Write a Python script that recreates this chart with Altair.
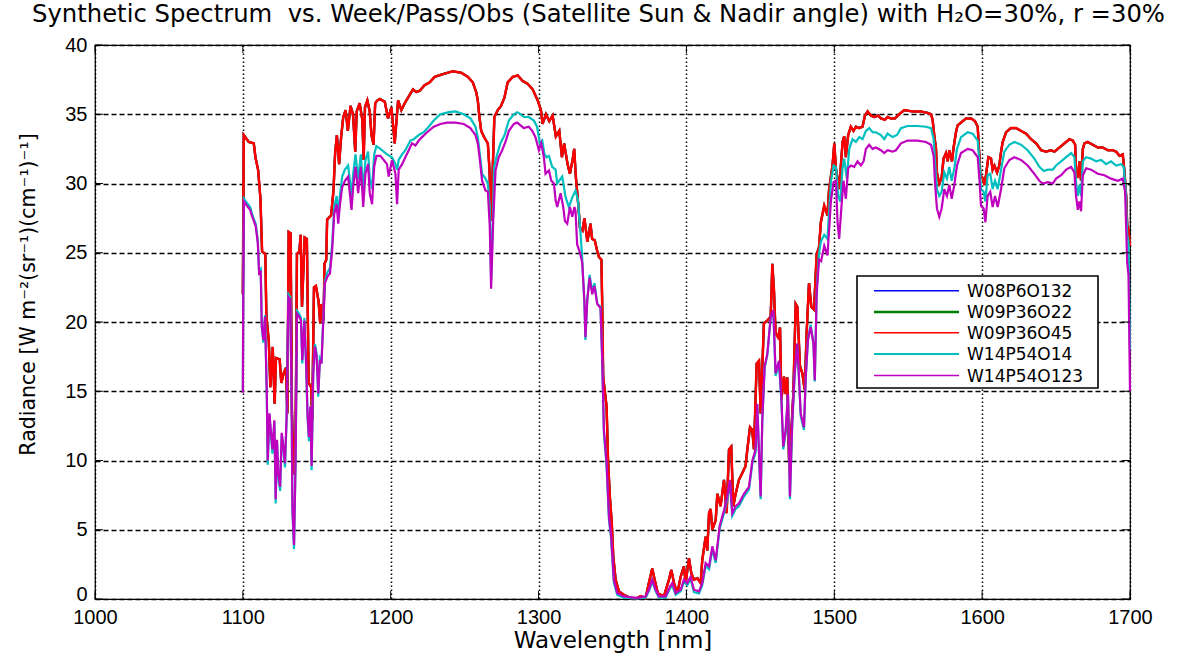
import altair as alt
import pandas as pd

# ---------------- data ----------------
X_TICKS = [1000, 1100, 1200, 1300, 1400, 1500, 1600, 1700]
Y_TICKS = [0, 5, 10, 15, 20, 25, 30, 35, 40]

SERIES = ["W08P6O132", "W09P36O22", "W09P36O45", "W14P54O14", "W14P54O123"]
COLORS = ["#0000ff", "#008000", "#ff0000", "#00bfbf", "#bf00bf"]

RED_WL = [1100.0, 1100.6, 1104.0, 1107.4, 1108.5, 1110.3, 1111.9, 1113.0, 1115.2, 1115.9, 1117.5,
          1118.6, 1120.2, 1121.5, 1122.4, 1124.9, 1126.0, 1127.6, 1129.2, 1130.1, 1131.0, 1132.3,
          1133.2, 1134.3, 1135.7, 1136.6, 1138.2, 1139.1, 1140.0, 1141.8, 1143.3, 1144.5, 1146.2,
          1146.9, 1148.1, 1149.4, 1151.2, 1152.3, 1153.2, 1154.6, 1155.2, 1156.4, 1157.0, 1159.7,
          1161.3, 1162.4, 1163.6, 1165.1, 1166.5, 1167.9, 1169.5, 1171.0, 1172.8, 1174.5, 1176.0,
          1177.0, 1179.0, 1180.8, 1181.7, 1182.6, 1184.2, 1185.8, 1187.0, 1188.4, 1189.5, 1191.0,
          1192.6, 1196.0, 1198.2, 1200.5, 1202.7, 1205.0, 1207.2, 1209.5, 1212.8, 1215.1, 1217.3,
          1219.6, 1222.9, 1226.3, 1229.7, 1235.3, 1242.0, 1247.7, 1252.2, 1255.5, 1257.8, 1258.9,
          1260.0, 1261.2, 1263.4, 1265.7, 1266.8, 1267.9, 1269.0, 1270.1, 1272.4, 1274.6, 1276.9,
          1279.1, 1282.5, 1285.9, 1289.3, 1292.6, 1296.0, 1299.4, 1301.6, 1302.7, 1305.0, 1307.2,
          1309.5, 1311.7, 1314.0, 1315.8, 1317.3, 1319.6, 1321.2, 1323.0, 1324.1, 1325.2, 1327.0,
          1328.0, 1329.7, 1331.0, 1333.0, 1335.1, 1336.2, 1338.0, 1339.5, 1340.8, 1342.5, 1343.0,
          1343.7, 1346.0, 1347.0, 1348.2, 1349.5, 1350.5, 1352.1, 1354.3, 1357.7, 1362.2, 1366.7,
          1369.0, 1372.4, 1374.6, 1376.9, 1378.5, 1380.7, 1384.8, 1388.2, 1389.8, 1391.6, 1393.8,
          1396.1, 1398.3, 1399.5, 1401.7, 1403.3, 1405.1, 1407.4, 1409.6, 1410.7, 1413.0, 1414.1,
          1415.3, 1416.4, 1417.5, 1419.8, 1420.9, 1423.1, 1425.4, 1427.2, 1428.8, 1430.3, 1431.7,
          1433.3, 1435.5, 1437.8, 1440.0, 1441.2, 1443.0, 1444.5, 1445.7, 1447.5, 1449.1, 1450.2,
          1452.4, 1454.7, 1457.0, 1458.1, 1459.2, 1460.3, 1462.0, 1463.3, 1464.2, 1466.0, 1467.1,
          1468.2, 1469.4, 1470.5, 1472.3, 1473.9, 1475.0, 1476.8, 1478.4, 1480.0, 1481.3, 1482.9,
          1484.5, 1486.3, 1488.1, 1489.7, 1490.9, 1493.2, 1495.4, 1496.5, 1498.8, 1500.0, 1501.1,
          1503.3, 1505.6, 1506.7, 1507.8, 1509.4, 1511.2, 1513.0, 1514.6, 1516.9, 1519.1, 1520.7,
          1522.5, 1524.8, 1527.0, 1529.7, 1531.5, 1534.2, 1536.0, 1538.3, 1541.0, 1543.9, 1547.3,
          1553.0, 1558.6, 1563.1, 1565.4, 1566.5, 1567.6, 1568.8, 1569.4, 1571.0, 1572.6, 1573.9,
          1575.5, 1576.7, 1577.8, 1579.6, 1580.7, 1582.3, 1583.4, 1585.7, 1589.1, 1592.5, 1595.2,
          1597.0, 1598.1, 1598.8, 1600.4, 1601.5, 1602.6, 1604.2, 1606.0, 1607.1, 1608.3, 1610.1,
          1611.6, 1612.8, 1613.9, 1616.2, 1619.5, 1622.9, 1626.3, 1629.7, 1633.1, 1636.5, 1639.9,
          1643.2, 1646.6, 1648.9, 1652.3, 1655.7, 1659.0, 1661.3, 1662.9, 1663.5, 1664.7, 1665.8,
          1666.9, 1668.1, 1669.2, 1671.4, 1674.8, 1678.2, 1681.6, 1685.0, 1688.4, 1690.6, 1692.9,
          1695.1, 1696.3, 1697.4, 1698.1, 1699.0, 1700.0]
RED_VAL = [22.0, 33.5, 33.0, 32.9, 31.9, 31.0, 28.9, 25.1, 24.9, 20.4, 18.7,
           15.3, 18.2, 14.1, 17.4, 17.3, 15.6, 16.3, 16.7, 13.4, 26.5, 26.4,
           13.6, 9.0, 12.0, 24.9, 25.1, 26.3, 21.1, 26.1, 26.0, 15.6, 15.3,
           12.9, 22.5, 22.6, 21.5, 19.9, 21.3, 20.1, 24.2, 24.5, 27.4, 27.7,
           29.5, 32.2, 33.5, 31.4, 33.4, 34.8, 35.3, 33.8, 35.6, 35.0, 32.3,
           35.2, 35.8, 34.6, 31.7, 35.5, 36.0, 35.2, 33.5, 32.8, 35.8, 36.0,
           36.1, 35.9, 34.7, 35.5, 32.9, 36.0, 35.3, 35.8, 36.4, 36.8, 36.6,
           36.7, 37.1, 37.3, 37.7, 37.9, 38.1, 38.0, 37.7, 37.3, 36.6, 36.0,
           34.8, 33.8, 33.3, 32.9, 31.0, 27.3, 31.0, 34.8, 35.3, 35.6, 36.2,
           37.3, 37.7, 37.8, 37.4, 37.2, 36.8, 36.0, 35.3, 34.3, 35.0, 34.5,
           34.9, 33.4, 33.8, 31.9, 32.9, 31.4, 30.7, 31.7, 32.5, 30.5, 28.3,
           26.8, 26.6, 27.5, 25.8, 27.1, 26.0, 25.9, 25.2, 24.7, 24.5, 21.5,
           16.0, 13.9, 10.0, 7.4, 5.5, 3.1, 1.4, 0.55, 0.3, 0.07, 0.07,
           0.2, 0.07, 1.15, 2.2, 1.4, 0.4, 0.2, 1.4, 2.1, 1.15, 0.4,
           1.6, 2.35, 1.15, 2.95, 1.87, 1.4, 1.5, 1.15, 2.8, 4.5, 3.5,
           6.2, 6.5, 5.0, 5.7, 7.6, 6.7, 8.6, 6.2, 10.8, 11.0, 6.7,
           7.6, 8.6, 9.1, 9.6, 10.8, 12.4, 12.2, 10.8, 17.0, 17.2, 13.4,
           19.9, 20.1, 20.4, 24.2, 22.3, 19.2, 18.9, 19.6, 14.4, 16.05, 14.8,
           16.0, 10.0, 11.2, 14.8, 21.3, 21.1, 16.8, 16.3, 15.1, 19.2, 22.8,
           21.1, 20.9, 24.9, 25.4, 27.2, 28.4, 27.7, 29.6, 31.3, 32.9, 31.1,
           29.6, 33.0, 33.4, 31.9, 33.5, 34.1, 33.8, 34.1, 34.0, 34.1, 34.9,
           35.2, 34.9, 34.8, 34.9, 34.7, 34.6, 34.8, 34.7, 34.7, 35.0, 35.3,
           35.2, 35.2, 35.1, 35.0, 34.6, 33.5, 32.5, 30.8, 30.0, 30.4, 31.8,
           32.2, 31.6, 32.4, 31.6, 32.6, 33.7, 34.2, 34.4, 34.7, 34.7, 34.5,
           34.1, 32.0, 30.6, 30.4, 29.9, 30.6, 31.9, 31.8, 31.0, 31.3, 30.8,
           31.3, 32.3, 33.0, 33.7, 34.0, 34.0, 33.8, 33.6, 33.2, 32.9, 32.4,
           32.3, 32.4, 32.3, 32.6, 32.9, 33.2, 33.1, 32.8, 30.8, 30.4, 31.6,
           30.2, 32.5, 32.9, 33.0, 32.8, 32.6, 32.6, 32.4, 32.4, 32.3, 32.0,
           32.1, 30.8, 29.1, 27.0, 26.7, 25.5]

# blue and green runs read as the same curve as red (hidden underneath it)
BLUE_WL, BLUE_VAL = RED_WL, RED_VAL
GREEN_WL, GREEN_VAL = RED_WL, RED_VAL

MAG_WL = [1100.0, 1100.3, 1100.7, 1102.7, 1104.9, 1106.0, 1107.2, 1108.7, 1110.1, 1111.0, 1112.1,
          1112.8, 1113.9, 1115.0, 1116.2, 1116.8, 1118.0, 1118.9, 1120.0, 1121.3, 1122.2, 1123.1,
          1124.0, 1125.2, 1126.3, 1127.4, 1128.5, 1129.6, 1130.8, 1132.1, 1133.0, 1133.5, 1134.6,
          1135.7, 1136.6, 1138.0, 1139.3, 1140.2, 1141.6, 1142.7, 1143.8, 1144.7, 1145.6, 1146.5,
          1147.6, 1148.8, 1149.9, 1151.0, 1152.1, 1153.2, 1154.4, 1155.5, 1157.3, 1158.9, 1160.4,
          1161.8, 1163.4, 1164.5, 1165.6, 1167.2, 1169.0, 1171.2, 1173.5, 1174.6, 1176.2, 1178.0,
          1179.8, 1181.4, 1182.9, 1184.7, 1185.8, 1187.4, 1188.8, 1190.3, 1193.0, 1197.5, 1198.6,
          1200.9, 1203.2, 1204.3, 1205.4, 1207.7, 1209.9, 1212.2, 1214.4, 1216.7, 1219.0, 1221.2,
          1224.6, 1229.1, 1233.6, 1238.1, 1243.8, 1249.4, 1253.9, 1257.3, 1258.9, 1260.3, 1261.8,
          1264.1, 1265.7, 1267.0, 1267.9, 1269.3, 1270.9, 1273.1, 1275.4, 1277.6, 1279.9, 1283.3,
          1285.5, 1287.8, 1290.0, 1293.4, 1295.7, 1297.9, 1300.2, 1301.8, 1303.6, 1304.7, 1307.0,
          1308.6, 1310.4, 1311.5, 1312.6, 1314.9, 1316.7, 1317.8, 1319.4, 1321.2, 1322.8, 1324.3,
          1325.0, 1326.1, 1328.0, 1329.5, 1331.0, 1331.7, 1332.9, 1334.5, 1336.3, 1337.8, 1339.7,
          1341.9, 1343.0, 1344.2, 1346.0, 1347.6, 1349.1, 1350.9, 1353.2, 1357.7, 1366.7, 1372.4,
          1374.6, 1376.9, 1379.2, 1381.4, 1385.9, 1388.9, 1390.4, 1392.7, 1396.1, 1398.3, 1400.6,
          1402.8, 1405.1, 1408.5, 1410.7, 1413.0, 1415.3, 1417.5, 1419.8, 1422.5, 1425.4, 1427.6,
          1429.4, 1431.0, 1433.3, 1435.5, 1438.9, 1442.3, 1444.6, 1446.8, 1447.9, 1450.2, 1451.3,
          1452.9, 1454.7, 1457.0, 1458.8, 1460.3, 1462.6, 1464.2, 1465.5, 1467.1, 1468.7, 1470.0,
          1471.6, 1473.2, 1475.0, 1477.3, 1479.5, 1480.7, 1482.2, 1484.0, 1485.9, 1486.8, 1488.1,
          1489.7, 1491.1, 1493.2, 1495.4, 1497.7, 1499.5, 1501.1, 1502.2, 1503.3, 1504.9, 1506.2,
          1507.8, 1509.4, 1511.2, 1513.5, 1515.7, 1518.0, 1519.8, 1521.4, 1523.6, 1525.9, 1528.1,
          1531.5, 1533.8, 1536.0, 1539.4, 1541.7, 1545.1, 1549.6, 1556.3, 1562.0, 1565.4, 1567.2,
          1568.1, 1569.4, 1571.0, 1572.6, 1574.4, 1576.2, 1577.8, 1579.4, 1581.2, 1583.0, 1585.7,
          1590.2, 1593.6, 1597.0, 1598.3, 1599.2, 1601.0, 1602.2, 1603.7, 1605.5, 1607.1, 1608.7,
          1610.5, 1612.8, 1615.0, 1618.4, 1621.8, 1626.3, 1630.8, 1635.3, 1638.7, 1641.0, 1644.4,
          1647.8, 1650.0, 1653.4, 1656.8, 1660.2, 1662.4, 1663.5, 1664.7, 1665.8, 1666.9, 1668.1,
          1670.3, 1673.7, 1678.2, 1682.7, 1687.2, 1691.8, 1695.1, 1696.7, 1698.1, 1699.0, 1700.0]
MAG_VAL = [14.9, 22.3, 28.7, 28.4, 28.1, 27.7, 27.35, 26.9, 25.7, 23.5, 23.6,
           19.7, 18.7, 20.4, 14.85, 10.0, 13.4, 12.2, 10.8, 12.9, 7.2, 11.5,
           9.1, 8.1, 12.0, 11.0, 9.8, 13.2, 21.8, 21.6, 14.1, 6.7, 3.9,
           10.3, 20.6, 20.4, 20.1, 17.25, 20.1, 17.25, 13.2, 11.7, 13.9, 9.6,
           16.3, 18.2, 17.5, 14.85, 17.25, 17.0, 20.1, 22.8, 23.3, 23.5, 25.2,
           27.8, 28.5, 27.1, 28.4, 29.75, 30.2, 30.5, 28.1, 29.75, 31.2, 29.3,
           31.2, 28.3, 30.7, 31.4, 29.3, 28.5, 31.2, 32.0, 32.0, 31.4, 30.5,
           31.7, 30.7, 28.5, 31.0, 31.4, 31.9, 32.4, 32.9, 32.75, 33.1, 33.35,
           33.7, 34.1, 34.3, 34.4, 34.4, 34.3, 34.0, 33.5, 32.9, 31.7, 30.2,
           29.5, 29.4, 26.9, 22.4, 27.3, 30.95, 31.9, 32.4, 33.0, 33.8, 34.3,
           34.4, 34.2, 34.0, 34.1, 33.8, 33.35, 32.4, 32.9, 31.9, 30.7, 30.95,
           30.2, 30.0, 28.8, 28.3, 29.3, 28.3, 27.3, 27.1, 28.3, 27.6, 28.3,
           28.0, 25.6, 25.0, 24.3, 21.5, 18.9, 21.5, 23.2, 22.0, 22.6, 21.3,
           21.0, 17.5, 12.2, 9.8, 5.96, 4.5, 1.4, 0.43, 0.19, 0.07, 0.19,
           0.67, 1.4, 0.67, 0.19, 0.19, 0.9, 1.15, 0.43, 0.67, 1.4, 1.15,
           1.6, 0.67, 0.55, 1.15, 2.6, 2.35, 3.8, 2.8, 5.3, 6.4, 7.4,
           8.6, 6.2, 6.7, 6.9, 7.6, 8.1, 10.0, 10.8, 14.1, 7.4, 12.9,
           16.8, 17.7, 20.4, 20.85, 16.3, 17.2, 14.6, 11.0, 12.2, 14.8, 7.4,
           12.9, 16.3, 18.45, 13.4, 12.4, 16.05, 18.7, 19.65, 18.45, 15.8, 22.05,
           24.5, 24.4, 25.5, 24.8, 28.7, 30.1, 30.2, 27.2, 26.0, 28.4, 30.2,
           28.9, 31.1, 31.3, 31.2, 31.6, 31.3, 31.6, 32.5, 32.8, 32.5, 32.6,
           32.4, 32.2, 32.4, 32.3, 32.4, 32.9, 33.1, 33.1, 33.0, 32.8, 32.0,
           30.1, 28.2, 27.6, 28.2, 29.6, 29.1, 29.9, 28.9, 29.9, 31.3, 32.2,
           32.5, 32.4, 31.9, 30.1, 28.4, 28.2, 27.2, 29.1, 29.4, 28.3, 29.1,
           28.3, 29.6, 31.1, 31.7, 31.9, 31.7, 31.3, 30.7, 30.2, 30.0, 30.1,
           30.0, 30.35, 30.6, 31.0, 31.2, 30.8, 29.1, 28.1, 28.7, 28.0, 30.6,
           31.1, 31.0, 30.7, 30.6, 30.35, 30.2, 30.35, 29.4, 24.3, 23.4, 15.0]

CYAN_WL = [1100.0, 1100.3, 1100.7, 1102.7, 1104.9, 1106.0, 1107.2, 1108.7, 1110.1, 1111.0, 1112.1,
           1112.8, 1113.9, 1115.0, 1116.2, 1116.8, 1118.0, 1118.9, 1120.0, 1121.3, 1122.2, 1123.1,
           1124.0, 1125.2, 1126.3, 1127.4, 1128.5, 1129.6, 1130.8, 1132.1, 1133.0, 1133.5, 1134.6,
           1135.7, 1136.6, 1138.0, 1139.3, 1140.2, 1141.6, 1142.7, 1143.8, 1144.7, 1145.6, 1146.5,
           1147.6, 1148.8, 1149.9, 1151.0, 1152.1, 1153.2, 1154.4, 1155.5, 1157.3, 1158.9, 1160.4,
           1161.8, 1163.4, 1164.5, 1165.6, 1167.2, 1169.0, 1171.2, 1173.5, 1174.6, 1176.2, 1178.0,
           1179.8, 1181.4, 1182.9, 1184.7, 1185.8, 1187.4, 1188.8, 1190.3, 1193.0, 1197.5, 1200.9,
           1203.2, 1204.3, 1205.4, 1207.7, 1209.9, 1213.3, 1215.6, 1219.0, 1222.3, 1225.7, 1229.1,
           1233.6, 1239.3, 1243.8, 1249.4, 1253.9, 1257.3, 1258.9, 1260.3, 1261.8, 1264.1, 1265.7,
           1267.0, 1267.9, 1269.3, 1269.9, 1272.0, 1274.2, 1277.0, 1279.9, 1283.3, 1285.5, 1287.8,
           1290.0, 1293.4, 1296.8, 1299.0, 1300.9, 1302.5, 1304.0, 1305.4, 1307.0, 1309.2, 1311.5,
           1312.6, 1316.0, 1318.3, 1320.5, 1322.8, 1325.0, 1326.6, 1328.4, 1329.5, 1331.0, 1331.7,
           1332.9, 1334.5, 1336.3, 1337.8, 1339.7, 1341.9, 1343.0, 1344.2, 1346.0, 1347.6, 1349.1,
           1350.9, 1353.2, 1357.7, 1366.7, 1372.4, 1374.6, 1376.9, 1379.2, 1381.4, 1385.9, 1388.9,
           1390.4, 1392.7, 1396.1, 1398.3, 1400.6, 1402.8, 1405.1, 1408.5, 1410.7, 1413.0, 1415.3,
           1417.5, 1419.8, 1422.5, 1425.4, 1427.6, 1429.4, 1431.0, 1433.3, 1435.5, 1438.9, 1442.3,
           1444.6, 1446.8, 1447.9, 1450.2, 1451.3, 1452.9, 1454.7, 1457.0, 1458.8, 1460.3, 1462.6,
           1464.2, 1465.5, 1467.1, 1468.7, 1470.0, 1471.6, 1473.2, 1475.0, 1477.3, 1479.5, 1480.7,
           1482.2, 1484.0, 1485.9, 1486.8, 1488.1, 1489.7, 1490.9, 1493.2, 1495.4, 1497.7, 1499.5,
           1501.1, 1502.6, 1504.0, 1505.6, 1506.7, 1508.5, 1510.1, 1512.3, 1514.6, 1516.9, 1519.1,
           1521.4, 1523.6, 1525.9, 1528.1, 1531.5, 1533.8, 1536.0, 1539.4, 1542.4, 1545.1, 1549.6,
           1556.3, 1562.0, 1565.4, 1567.2, 1568.3, 1569.4, 1571.0, 1572.6, 1574.4, 1576.2, 1577.8,
           1579.4, 1581.2, 1583.0, 1585.7, 1590.2, 1593.6, 1597.0, 1598.3, 1599.2, 1601.0, 1602.2,
           1603.7, 1605.5, 1607.1, 1608.7, 1610.5, 1612.8, 1615.0, 1618.4, 1621.8, 1626.3, 1630.8,
           1635.3, 1638.7, 1641.7, 1644.4, 1647.8, 1650.0, 1653.4, 1656.8, 1660.2, 1662.4, 1663.5,
           1664.7, 1665.8, 1666.9, 1668.1, 1670.3, 1673.7, 1677.1, 1680.5, 1683.8, 1687.2, 1690.6,
           1694.0, 1695.8, 1697.0, 1698.1, 1699.0, 1700.0]
CYAN_VAL = [15.0, 22.5, 28.9, 28.6, 28.3, 27.9, 27.5, 27.1, 25.9, 23.6, 23.8,
            19.6, 18.5, 20.5, 14.6, 9.7, 13.2, 12.0, 10.5, 12.8, 6.9, 11.3,
            8.8, 7.8, 11.9, 10.8, 9.5, 13.0, 22.0, 21.8, 13.9, 6.4, 3.6,
            10.1, 20.8, 20.6, 20.3, 17.0, 20.3, 17.0, 13.0, 11.4, 13.7, 9.3,
            16.4, 18.4, 17.7, 14.6, 17.4, 17.2, 20.3, 23.0, 23.6, 23.9, 25.6,
            28.3, 29.1, 27.7, 29.1, 30.5, 31.0, 31.3, 29.1, 30.7, 32.1, 30.3,
            32.1, 29.4, 31.7, 32.3, 30.4, 29.6, 32.1, 32.7, 32.5, 32.1, 31.9,
            31.4, 31.0, 31.7, 32.1, 32.4, 33.1, 33.2, 33.5, 33.7, 34.1, 34.55,
            35.0, 35.15, 35.2, 35.0, 34.7, 34.1, 33.35, 32.1, 30.7, 30.35, 30.0,
            28.3, 23.0, 28.0, 31.2, 32.1, 32.9, 33.5, 34.55, 35.0, 35.15, 35.0,
            34.8, 34.8, 34.55, 34.1, 32.9, 33.1, 32.1, 31.9, 32.0, 31.2, 31.0,
            30.0, 30.5, 29.0, 28.3, 29.0, 29.5, 28.8, 26.4, 24.6, 21.3, 18.7,
            21.6, 23.4, 22.2, 22.8, 21.3, 21.1, 17.3, 12.0, 9.6, 5.7, 4.3,
            1.2, 0.3, 0.1, 0.05, 0.1, 0.55, 1.25, 0.55, 0.1, 0.1, 0.75,
            1.0, 0.3, 0.55, 1.25, 1.0, 1.45, 0.5, 0.4, 1.0, 2.4, 2.15,
            3.6, 2.6, 5.1, 6.2, 7.2, 8.4, 6.0, 6.5, 6.7, 7.4, 7.9,
            9.8, 10.6, 14.0, 7.2, 12.8, 16.7, 17.6, 20.3, 20.8, 16.1, 17.0,
            14.4, 10.8, 12.0, 14.7, 7.2, 12.7, 16.2, 18.4, 13.2, 12.2, 16.0,
            18.8, 19.8, 18.5, 15.7, 22.3, 25.0, 25.8, 26.3, 26.0, 30.1, 31.3,
            31.2, 29.1, 28.7, 31.1, 31.8, 30.35, 32.5, 33.2, 33.0, 33.35, 33.2,
            33.8, 34.0, 33.7, 33.7, 33.5, 33.2, 33.6, 33.35, 33.5, 34.0, 34.15,
            34.15, 34.1, 34.0, 33.2, 31.3, 29.6, 29.1, 29.4, 30.8, 30.35, 31.2,
            30.2, 31.1, 32.5, 33.35, 33.7, 33.6, 33.1, 31.3, 29.6, 29.4, 28.7,
            30.6, 30.7, 29.6, 30.2, 29.6, 31.0, 32.3, 32.8, 33.0, 32.8, 32.4,
            31.8, 31.2, 30.9, 31.0, 31.0, 31.3, 31.6, 31.9, 32.2, 31.9, 30.1,
            29.1, 29.9, 29.1, 31.6, 31.9, 31.8, 31.6, 31.7, 31.4, 31.6, 31.3,
            31.4, 31.2, 29.6, 26.3, 25.8, 18.0]

SERIES_DATA = [
    (BLUE_WL, BLUE_VAL),
    (GREEN_WL, GREEN_VAL),
    (RED_WL, RED_VAL),
    (CYAN_WL, CYAN_VAL),
    (MAG_WL, MAG_VAL),
]

TITLE = "Synthetic Spectrum \u00a0vs. Week/Pass/Obs (Satellite Sun & Nadir angle) with H\u2082O=30%, r =30%"
XTITLE = "Wavelength [nm]"
YTITLE = "Radiance [W m\u207b\u00b2(sr\u207b\u00b9)(cm\u207b\u00b9)\u207b\u00b9]"

# ---------------- chart ----------------
W, H = 1035, 554
TICK_FONT = "Liberation Sans"
TEXT_FONT = "DejaVu Sans"

xscale = alt.Scale(domain=[1000, 1700], nice=False, zero=False)
yscale = alt.Scale(domain=[0, 40], nice=False, zero=True)

xaxis = alt.Axis(values=X_TICKS, title=XTITLE, grid=True, gridDash=[1.6, 2.4], gridColor="black",
                 gridWidth=1.5, gridOpacity=1, ticks=False, domain=False, labelFont=TICK_FONT,
                 labelFontSize=20, labelColor="black", labelPadding=8, labelFlush=False,
                 titleFont=TEXT_FONT, titleFontSize=23, titleFontWeight="normal", titleColor="black",
                 titleX=W / 2, titleY=48, titleBaseline="alphabetic", titleAlign="center", format="d")
yaxis = alt.Axis(values=Y_TICKS, title=YTITLE, grid=True, gridDash=[5, 3], gridColor="black",
                 gridWidth=1.3, gridOpacity=1, ticks=False, domain=False, labelFont=TICK_FONT,
                 labelFontSize=20, labelColor="black", labelPadding=8, labelFlush=False,
                 labelOffset={"condition": {"test": "datum.value === 0", "value": -5}, "value": 0},
                 titleFont=TEXT_FONT, titleFontSize=20.5, titleFontWeight="normal", titleColor="black",
                 titleX=-61, titleY=249, titleAngle=270, titleAlign="center",
                 titleBaseline="alphabetic")

layers = []
for i, ((wl, val), name, col) in enumerate(zip(SERIES_DATA, SERIES, COLORS)):
    df = pd.DataFrame({"wl": wl, "val": val})
    sw = 2.5 if name == "W09P36O45" else 2.2
    layers.append(alt.Chart(df).mark_line(color=col, strokeWidth=sw, interpolate="linear")
                  .encode(x=alt.X("wl:Q", scale=xscale, axis=xaxis),
                          y=alt.Y("val:Q", scale=yscale, axis=yaxis)))

# inward ticks on all four sides
TL = 8
xt = pd.DataFrame({"wl": X_TICKS})
yt = pd.DataFrame({"val": Y_TICKS})
layers.append(alt.Chart(xt).mark_rule(color="black", strokeWidth=1)
              .encode(x=alt.X("wl:Q", scale=xscale, axis=xaxis), y=alt.value(H), y2=alt.value(H - TL)))
layers.append(alt.Chart(xt).mark_rule(color="black", strokeWidth=1)
              .encode(x=alt.X("wl:Q", scale=xscale, axis=xaxis), y=alt.value(0), y2=alt.value(TL)))
layers.append(alt.Chart(yt).mark_rule(color="black", strokeWidth=1)
              .encode(y=alt.Y("val:Q", scale=yscale, axis=yaxis), x=alt.value(0), x2=alt.value(TL)))
layers.append(alt.Chart(yt).mark_rule(color="black", strokeWidth=1)
              .encode(y=alt.Y("val:Q", scale=yscale, axis=yaxis), x=alt.value(W), x2=alt.value(W - TL)))

# legend box
LX0, LX1, LY0, LY1 = 762, 1003, 231, 343
layers.append(alt.Chart(pd.DataFrame({"a": [0]})).mark_rect(fill="white", stroke="black", strokeWidth=1.6)
              .encode(x=alt.value(LX0), x2=alt.value(LX1), y=alt.value(LY0), y2=alt.value(LY1)))
ROW_Y = [245.7, 267.0, 287.7, 309.0, 330.5]
LEG_W = [1.5, 2.5, 1.5, 2.0, 1.5]
for name, col, yy, lw in zip(SERIES, COLORS, ROW_Y, LEG_W):
    d = pd.DataFrame({"name": [name]})
    layers.append(alt.Chart(d).mark_rule(color=col, strokeWidth=lw)
                  .encode(x=alt.value(779), x2=alt.value(864), y=alt.value(yy)))
    layers.append(alt.Chart(d).mark_text(align="left", baseline="middle", font=TEXT_FONT,
                                         fontSize=17, color="black")
                  .encode(x=alt.value(872), y=alt.value(yy + 1), text="name:N"))

chart = alt.layer(*layers).properties(
    width=W, height=H,
    padding={"left": 95, "top": 45, "right": 58, "bottom": 56},
    autosize=alt.AutoSizeParams(type="none"),
    title=alt.TitleParams(TITLE, font=TEXT_FONT, fontSize=24.3, fontWeight="normal", color="black",
                          anchor="middle", offset=8, dx=-14),
).configure(background="white").configure_view(stroke="black", strokeWidth=1.2)

chart.save("out.html", embed_options={"renderer": "svg", "actions": False})
